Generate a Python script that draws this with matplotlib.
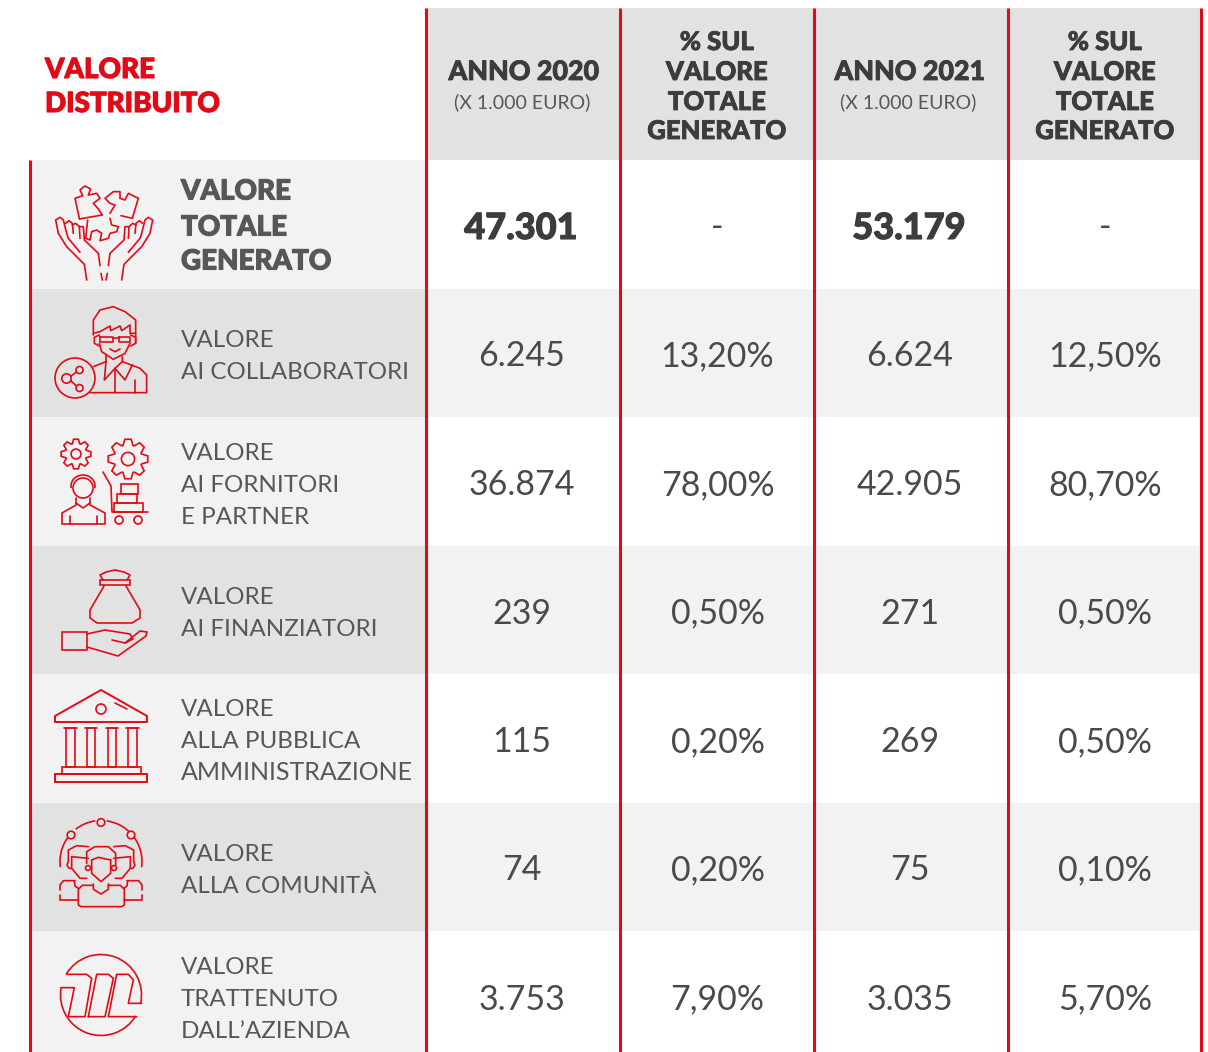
import numpy as np
import matplotlib
matplotlib.use("Agg")
import matplotlib.pyplot as plt
import matplotlib.patheffects as pe
from matplotlib.patches import Rectangle, Circle, Arc, Polygon

RED = "#e30a17"
DARK = "#3c3c3b"
GREY = "#575756"
TEXT = "#4a4a49"
LIGHT = "#f2f2f2"
MID = "#e2e2e2"

title_lines = ["VALORE", "DISTRIBUITO"]
year_headers = ["ANNO 2020", "ANNO 2021"]
unit_header = "(X 1.000 EURO)"
pct_header = ["% SUL", "VALORE", "TOTALE", "GENERATO"]

row_labels = [
    ["VALORE", "TOTALE", "GENERATO"],
    ["VALORE", "AI COLLABORATORI"],
    ["VALORE", "AI FORNITORI", "E PARTNER"],
    ["VALORE", "AI FINANZIATORI"],
    ["VALORE", "ALLA PUBBLICA", "AMMINISTRAZIONE"],
    ["VALORE", "ALLA COMUNITÀ"],
    ["VALORE", "TRATTENUTO", "DALL’AZIENDA"],
]
values_2020 = ["47.301", "6.245", "36.874", "239", "115", "74", "3.753"]
pct_2020 = ["-", "13,20%", "78,00%", "0,50%", "0,20%", "0,20%", "7,90%"]
values_2021 = ["53.179", "6.624", "42.905", "271", "269", "75", "3.035"]
pct_2021 = ["-", "12,50%", "80,70%", "0,50%", "0,50%", "0,10%", "5,70%"]

row_edges = [160, 289, 417, 546, 674, 803, 931, 1052]
row_mids = [224.5, 353, 481.5, 610, 738.5, 867, 996]
col_edges = [426, 620, 814, 1008, 1201]
col_centers = [522, 717.5, 910, 1105]

fig = plt.figure(figsize=(12.08, 10.52), dpi=100)
ax = fig.add_axes([0, 0, 1, 1])
ax.set_xlim(0, 1208)
ax.set_ylim(1052, 0)
ax.axis("off")


def line(xs, ys, lw=1.2):
    ax.plot(xs, ys, color=RED, lw=lw, solid_capstyle="round", solid_joinstyle="round", zorder=4)


def crop(x0, y0, pts, mirror=None, lw=1.2):
    # icon outlines are noted in 3x crop coordinates
    xs = [(mirror - p[0] if mirror else p[0]) / 3 + x0 for p in pts]
    ys = [p[1] / 3 + y0 for p in pts]
    line(xs, ys, lw)


def ring(x, y, r, lw=1.2, fc="none"):
    ax.add_patch(Circle((x, y), r, fc=fc, ec=RED, lw=lw, zorder=4))


def box(x0, y0, x1, y1, lw=1.2):
    ax.add_patch(Rectangle((x0, y0), x1 - x0, y1 - y0, fc="none", ec=RED, lw=lw, zorder=4))


def arc(x, y, w, h, t1, t2, lw=1.2):
    ax.add_patch(Arc((x, y), w, h, theta1=t1, theta2=t2, color=RED, lw=lw, zorder=4))


def gear(x, y, r, teeth=8):
    pts = []
    for i in range(teeth):
        a = 2 * np.pi * i / teeth
        d = np.pi / teeth
        for da, rr in [(-d * 0.9, 0.72), (-d * 0.4, 1.0), (d * 0.4, 1.0), (d * 0.9, 0.72)]:
            pts.append((x + rr * r * np.cos(a + da), y + rr * r * np.sin(a + da)))
    ax.add_patch(Polygon(pts, closed=True, fc="none", ec=RED, lw=1.2, zorder=4))
    ring(x, y, r * 0.33)


def icon_hands():
    x0, y0 = 45, 175
    crop(x0, y0, [(103, 130), (90, 70), (113, 62), (105, 45), (120, 33), (137, 42), (130, 60), (155, 55),
                  (165, 70), (145, 85), (160, 102), (172, 120), (103, 132)])
    crop(x0, y0, [(228, 122), (262, 130), (280, 70), (250, 55), (240, 75), (225, 70), (225, 50), (205, 50),
                  (180, 70), (195, 85), (210, 90), (195, 115)])
    crop(x0, y0, [(128, 135), (122, 190), (135, 195), (140, 170), (155, 165), (170, 175), (165, 197),
                  (190, 190), (195, 175), (215, 170), (220, 155), (200, 150), (195, 130)])
    for m in (None, 355):
        crop(x0, y0, [(125, 315), (118, 268), (65, 215), (40, 175), (32, 135), (45, 127), (55, 135), (65, 175),
                      (70, 190), (105, 232)], m)
        crop(x0, y0, [(62, 145), (72, 137), (82, 145), (85, 175)], m)
        crop(x0, y0, [(82, 150), (92, 145), (103, 155), (105, 190)], m)
        crop(x0, y0, [(103, 155), (115, 155), (118, 195), (160, 235), (165, 272)], m)
        crop(x0, y0, [(168, 295), (172, 315)], m)


def icon_person():
    x0, y0 = 45, 300
    crop(x0, y0, [(145, 105), (145, 60), (165, 30), (205, 20), (240, 35), (272, 60), (272, 130)])
    crop(x0, y0, [(145, 100), (165, 95), (195, 78), (197, 92), (225, 78), (230, 92), (255, 75), (255, 100), (272, 100)])
    crop(x0, y0, [(165, 110), (205, 110), (205, 127), (165, 127), (165, 110)])
    crop(x0, y0, [(222, 110), (255, 110), (255, 127), (222, 127), (222, 110)])
    crop(x0, y0, [(205, 113), (222, 113)])
    crop(x0, y0, [(163, 130), (170, 155), (205, 178), (240, 160), (255, 130)])
    crop(x0, y0, [(163, 105), (148, 112), (148, 130), (163, 138)])
    crop(x0, y0, [(257, 105), (272, 112), (272, 130), (257, 138)])
    crop(x0, y0, [(195, 147), (210, 155), (225, 147)])
    crop(x0, y0, [(183, 165), (183, 185), (145, 200)])
    crop(x0, y0, [(232, 170), (232, 185), (285, 205), (305, 225), (305, 278), (135, 278)])
    crop(x0, y0, [(183, 185), (178, 240), (210, 205), (240, 240), (262, 195)])
    crop(x0, y0, [(232, 185), (210, 205), (210, 278)])
    crop(x0, y0, [(270, 240), (270, 278)])
    ring(75, 378, 20, fc=MID)
    ring(66.5, 378.5, 4.7, fc=MID)
    ring(79.5, 370, 3.5, fc=MID)
    ring(79.5, 388, 3.5, fc=MID)
    line([71, 76.5], [376, 372])
    line([71, 76.5], [381, 386])


def icon_suppliers():
    gear(76, 454, 15)
    gear(128, 459, 20)
    ax.add_patch(Circle((83, 488), 10, fc=LIGHT, ec=RED, lw=1.2, zorder=4))
    arc(83, 486, 24, 22, 170, 370)
    line([76, 76, 62, 62, 105, 105, 90, 90], [498, 505, 513, 524, 524, 513, 505, 498])
    line([76, 83, 90], [503, 508, 503])
    line([70, 70], [516, 524])
    line([97, 97], [516, 524])
    line([103, 111, 112, 148], [472, 486, 512, 512])
    box(121, 484, 138, 494)
    box(117, 494, 137, 503)
    box(114, 503, 143, 512)
    ring(119, 520, 4)
    ring(138, 520, 4)


def icon_bag():
    line([103, 100, 106, 115, 124, 130, 127], [580, 575, 572, 570, 572, 575, 580])
    ax.add_patch(Rectangle((100, 580), 30, 5, fc="none", ec=RED, lw=1.2, zorder=4))
    line([104, 90, 90, 97, 132, 140, 140, 126],
         [586, 610, 618, 623, 623, 618, 610, 586])
    box(62, 632, 87, 650)
    line([87, 105, 130, 133, 125, 112], [634, 630, 634, 639, 643, 640])
    line([87, 118, 146, 147, 140, 125], [647, 656, 636, 632, 631, 643])


def icon_temple():
    ax.add_patch(Polygon([(101, 690), (55, 716), (55, 722), (147, 722), (147, 716)], closed=True,
                         fc="none", ec=RED, lw=1.4, joinstyle="round", zorder=4))
    ring(101, 709, 5)
    line([115, 127], [703, 709])
    for x0, x1 in [(66, 75), (87, 95), (108, 116), (128, 137)]:
        line([x0 - 2, x1 + 2], [728, 728])
        box(x0, 728, x1, 767)
    box(62, 767, 141, 774)
    box(55, 774, 147, 782, lw=1.4)


def icon_community():
    x0, y0 = 45, 810
    arc(101, 861.5, 82, 82, 172, 225)
    arc(101, 861.5, 82, 82, 232, 262)
    arc(101, 861.5, 82, 82, 278, 318)
    arc(101, 861.5, 82, 82, 322, 368)
    for x, y in [(101, 822.5), (71, 835), (131, 835)]:
        ring(x, y, 3.8, fc=MID)
    for m in (None, 336):
        crop(x0, y0, [(70, 155), (70, 120), (95, 107), (130, 110)], m)
        crop(x0, y0, [(80, 140), (130, 145)], m)
        crop(x0, y0, [(80, 140), (80, 175), (105, 205), (125, 205)], m)
        crop(x0, y0, [(70, 155), (66, 165), (72, 175), (80, 175)], m)
        crop(x0, y0, [(88, 212), (90, 228), (100, 235)], m)
        crop(x0, y0, [(45, 240), (45, 225), (55, 212), (90, 212)], m)
        crop(x0, y0, [(45, 255), (45, 270), (100, 270)], m)
    crop(x0, y0, [(125, 160), (125, 125), (150, 110), (190, 110), (212, 130), (212, 165)])
    crop(x0, y0, [(140, 150), (160, 142), (197, 150)])
    crop(x0, y0, [(140, 150), (140, 190), (168, 215), (197, 190), (197, 150)])
    ring(88, 868, 2.5)
    ring(114, 868, 2.5)
    crop(x0, y0, [(145, 222), (145, 238), (168, 252), (190, 238), (190, 222)])
    crop(x0, y0, [(145, 226), (112, 226), (100, 238), (100, 285), (108, 290), (230, 290), (238, 285),
                  (238, 238), (226, 226), (190, 226)])


def icon_logo():
    x0, y0 = 45, 945
    arc(101, 995, 81, 81, 211, 372)
    arc(101, 995, 81, 81, 31, 190)
    crop(x0, y0, [(65, 88), (125, 88), (140, 100), (120, 215), (70, 215), (88, 128), (48, 128)])
    crop(x0, y0, [(130, 215), (180, 215), (205, 100), (190, 88), (155, 88), (130, 215)])
    crop(x0, y0, [(275, 215), (190, 215), (215, 88), (250, 88), (265, 105), (250, 175), (290, 175)])


icons = [icon_hands, icon_person, icon_suppliers, icon_bag, icon_temple, icon_community, icon_logo]


def heavy(txt_obj, width=0.6):
    txt_obj.set_path_effects([pe.withStroke(linewidth=width, foreground=txt_obj.get_color())])


# header band
ax.add_patch(Rectangle((426, 8), 775, 152, fc=MID, ec="none", zorder=1))

# row bands
for i in range(7):
    y0, y1 = row_edges[i], row_edges[i + 1]
    ax.add_patch(Rectangle((30, y0), 396, y1 - y0, fc=LIGHT if i % 2 == 0 else MID, ec="none", zorder=1))
    ax.add_patch(Rectangle((426, y0), 775, y1 - y0, fc="white" if i % 2 == 0 else LIGHT, ec="none", zorder=1))

# red rules
for x in col_edges:
    ax.plot([x, x], [8, 1052], color=RED, lw=2.2, solid_capstyle="butt", zorder=3)
ax.plot([30, 30], [160, 1052], color=RED, lw=2.2, solid_capstyle="butt", zorder=3)

# title
for txt, y in zip(title_lines, [78, 112]):
    heavy(ax.text(45, y, txt, color=RED, fontsize=20, family="Lato", weight="black", va="baseline"), 0.8)

# column headers
for cx, txt in zip([523.5, 909.5], year_headers):
    heavy(ax.text(cx, 80, txt, color=DARK, fontsize=19.3, family="Lato", weight="black", ha="center", va="baseline"))
    ax.text(cx - 1, 108, unit_header, color=GREY, fontsize=14, family="Lato", ha="center", va="baseline")
for cx in [717, 1105]:
    for txt, y in zip(pct_header, [50, 80, 110, 139]):
        heavy(ax.text(cx, y, txt, color=DARK, fontsize=18.5, family="Lato", weight="black", ha="center", va="baseline"))

# rows
for i, lines in enumerate(row_labels):
    mid = row_mids[i]
    step = 35 if i == 0 else 32
    for k, txt in enumerate(lines):
        y = mid + (k - (len(lines) - 1) / 2) * step + 10
        if i == 0 and k == 1:
            y += 1
        t = ax.text(181, y, txt, color=GREY, fontsize=20 if i == 0 else (18 if len(txt) > 14 and "AMM" in txt else 17.4),
                    family="Lato", weight="black" if i == 0 else "normal", va="baseline")
        if i == 0:
            heavy(t, 0.8)
    icons[i]()
    cols = [values_2020[i], pct_2020[i], values_2021[i], pct_2021[i]]
    for cx, txt in zip(col_centers, cols):
        if i == 0 and txt != "-":
            heavy(ax.text(cx - 1, mid + 14.5, txt, color=DARK, fontsize=26, family="Lato", weight="black",
                          ha="center", va="baseline"), 0.8)
        elif txt == "-":
            ax.text(cx, mid + 12.5, txt, color=TEXT, fontsize=24.5, family="Lato", ha="center", va="baseline")
        else:
            ax.text(cx, mid + 13.5, txt, color=TEXT, fontsize=24.5, family="Lato",
                    ha="center", va="baseline")

fig.savefig("out.png", dpi=100)
